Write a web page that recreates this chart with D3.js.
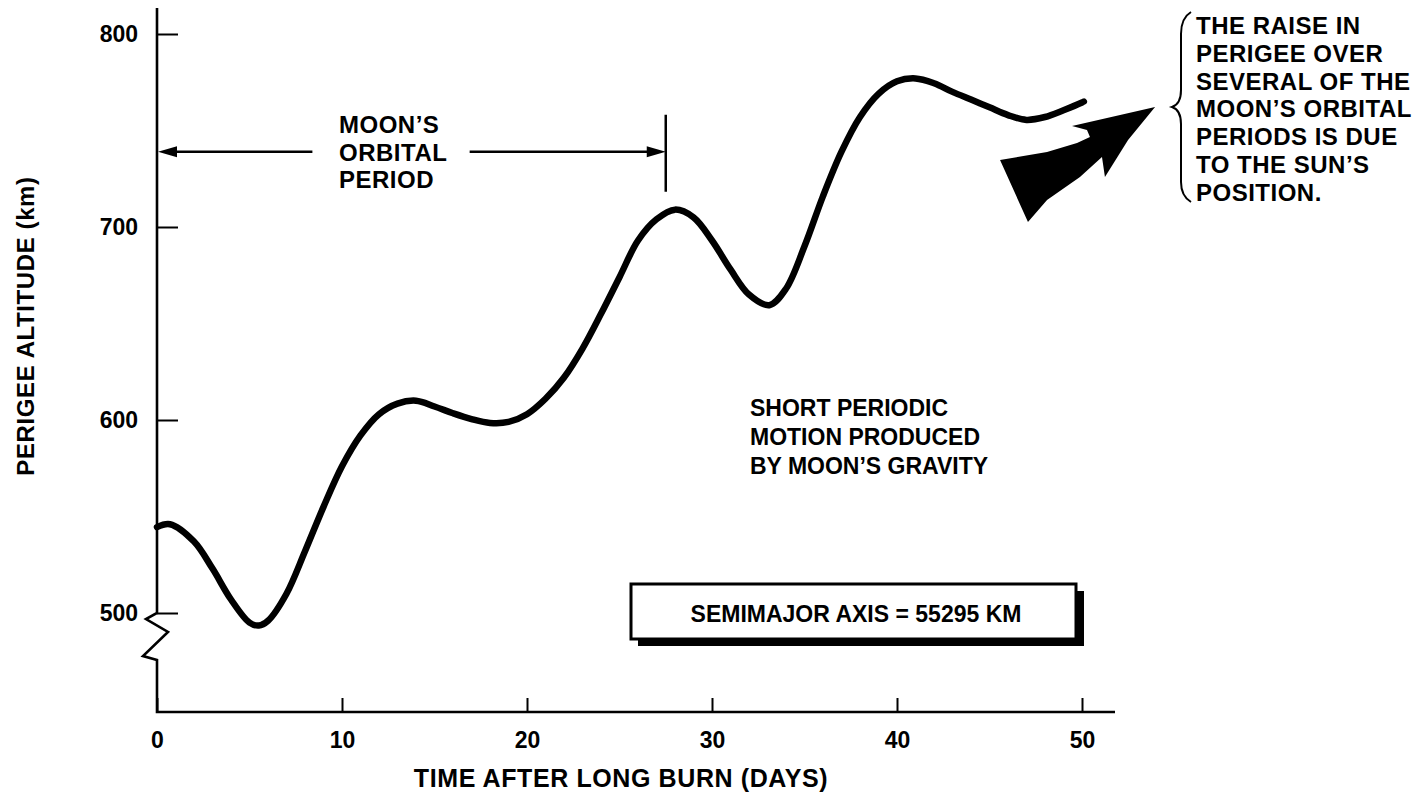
<!DOCTYPE html>
<meta charset="utf-8">
<style>

    body {
        margin: 0;
        background: #fff;
    }

    text {
        fill: #000;
        font-family: "Liberation Sans", Arial, Helvetica, sans-serif;
        font-weight: bold;
    }

    .axis text {
        font-size: 23px;
    }

    .axis .tick line {
        stroke: #000;
        stroke-width: 2;
    }

    path.axisline {
        fill: none;
        stroke: #000;
        stroke-width: 2.6;
        stroke-linejoin: miter;
    }

    path.line {
        fill: none;
        stroke: #000;
        stroke-width: 6.5;
        stroke-linecap: round;
    }

    .note {
        font-size: 23px;
    }

    .note.big {
        font-size: 24px;
        letter-spacing: 0.5px;
    }

    .title {
        font-size: 24px;
        letter-spacing: 0.6px;
    }

    .title.x {
        font-size: 25px;
    }

    path.period {
        fill: none;
        stroke: #000;
        stroke-width: 2.5;
    }

    path.head {
        fill: #000;
    }

    path.brace {
        fill: none;
        stroke: #000;
        stroke-width: 2;
    }

    rect.box {
        fill: #fff;
        stroke: #000;
        stroke-width: 3;
    }

    rect.shadow {
        fill: #000;
    }
</style>
<body>
<script src="https://cdn.jsdelivr.net/npm/d3@7"></script>
<script>

    // perigee altitude (km) against days after the long burn
    var days    = [0, 0.7, 2, 3, 4, 5, 5.5, 6, 7, 8, 9, 10, 11, 12, 13, 14, 15, 16, 17, 18, 19, 20, 21, 22, 23, 24, 25,
                   26, 27, 28, 29, 30, 31, 32, 33.1, 34, 35, 36, 37, 38, 39, 40, 41, 42, 43, 44, 45, 46, 47, 48, 49, 50, 50.1];
    var perigee = [544.5, 546, 537, 523, 507, 495, 493.5, 496, 510, 532, 555, 576, 592, 603, 608.5, 610, 607, 603.5,
                   600.5, 598.5, 599, 603, 611, 622, 637, 655, 674, 693, 704, 709, 705, 693, 678, 665, 659.5, 668,
                   690, 716, 739, 757, 769, 775.5, 777, 774.5, 770, 766, 762, 758, 755.5, 757, 760.5, 764.5, 765];

    var xTicks = [0, 10, 20, 30, 40, 50];
    var yTicks = [500, 600, 700, 800];

    // moon's orbital period bracket (days) and the level it sits at (km)
    var periodSpan = [0, 27.5],
        periodLevel = 739,
        periodGap = [8.4, 16.9];

    // outline of the big "sun" arrow, in days / km
    var sunArrowT = [45.57, 48.11, 49.73, 50.43, 50.27, 49.46, 53.95, 52.49, 51.24, 51.08, 49.89, 48.11, 47.08];
    var sunArrowV = [734.7, 738.9, 743.5, 746.6, 750.3, 752.3, 762.2, 745.1, 725.9, 736.3, 725.9, 714.0, 702.6];

    var raiseNote = ["THE RAISE IN", "PERIGEE OVER", "SEVERAL OF THE", "MOON\u2019S ORBITAL",
                     "PERIODS IS DUE", "TO THE SUN\u2019S", "POSITION."];
    var shortNote = ["SHORT PERIODIC", "MOTION PRODUCED", "BY MOON\u2019S GRAVITY"];
    var periodNote = ["MOON\u2019S", "ORBITAL", "PERIOD"];
    var boxLabel = "SEMIMAJOR AXIS = 55295 KM";

    var width = 1421,
        height = 800,
        axisX = 157,
        axisBottom = 712,
        axisTop = 8,
        axisRight = 1115;

    var x = d3.scaleLinear()
            .domain([0, 50])
            .range([axisX, 1082]);

    var y = d3.scaleLinear()
            .domain([500, 800])
            .range([613, 34]);

    var svg = d3.select("body").append("svg")
            .attr("width", width)
            .attr("height", height);

    // axes: ticks point inward, the domain line is drawn by hand for the break
    var xAxis = d3.axisBottom(x)
            .tickValues(xTicks)
            .tickSizeInner(-14)
            .tickSizeOuter(0)
            .tickPadding(20);

    var yAxis = d3.axisLeft(y)
            .tickValues(yTicks)
            .tickSizeInner(-21)
            .tickSizeOuter(0)
            .tickPadding(19);

    svg.append("g")
            .attr("class", "x axis")
            .attr("transform", "translate(0," + axisBottom + ")")
            .call(xAxis)
            .call(function(g) { g.select(".domain").remove(); });

    svg.append("g")
            .attr("class", "y axis")
            .attr("transform", "translate(" + axisX + ",0)")
            .call(yAxis)
            .call(function(g) { g.select(".domain").remove(); });

    svg.selectAll(".axis text")
            .attr("font-family", null)
            .attr("font-size", null);

    var y0 = y(500);
    svg.append("path")
            .attr("class", "axisline")
            .attr("d", d3.line()([
                [axisX, axisTop], [axisX, y0], [axisX - 11, y0 + 6], [axisX + 11, y0 + 19],
                [axisX - 14, y0 + 43], [axisX, y0 + 47], [axisX, axisBottom], [axisRight, axisBottom]
            ]));

    // the curve
    var line = d3.line()
            .x(function(d, i) { return x(days[i]); })
            .y(function(d) { return y(d); })
            .curve(d3.curveCatmullRom.alpha(0.5));

    svg.append("path")
            .attr("class", "line")
            .attr("d", line(perigee));

    // orbital period bracket
    var py = y(periodLevel);
    svg.append("path")
            .attr("class", "period")
            .attr("d", "M" + (x(periodSpan[0]) + 12) + "," + py + "H" + x(periodGap[0]) +
                       "M" + x(periodGap[1]) + "," + py + "H" + (x(periodSpan[1]) - 12) +
                       "M" + x(periodSpan[1]) + "," + (py - 37) + "V" + (py + 40));

    svg.append("path")
            .attr("class", "head")
            .attr("d", "M" + (x(periodSpan[0]) + 1) + "," + py + "l19,-5.5v11z" +
                       "M" + x(periodSpan[1]) + "," + py + "l-19,-5.5v11z");

    svg.append("g")
            .attr("class", "note big")
        .selectAll("text")
        .data(periodNote)
        .enter().append("text")
            .attr("x", 339)
            .attr("y", function(d, i) { return 133 + i * 27.5; })
            .text(function(d) { return d; });

    // big arrow towards the note on the right
    svg.append("path")
            .attr("class", "head")
            .attr("d", d3.line()
                .x(function(d, i) { return x(d); })
                .y(function(d, i) { return y(sunArrowV[i]); })
                .curve(d3.curveLinearClosed)(sunArrowT));

    // brace and right-hand note
    svg.append("path")
            .attr("class", "brace")
            .attr("d", "M1191,12 Q1181,18 1181,34 V90 Q1181,104 1172,107 Q1181,110 1181,124 V182 Q1181,196 1191,202");

    svg.append("g")
            .attr("class", "note big")
        .selectAll("text")
        .data(raiseNote)
        .enter().append("text")
            .attr("x", 1196)
            .attr("y", function(d, i) { return 34 + i * 27.8; })
            .text(function(d) { return d; });

    svg.append("g")
            .attr("class", "note")
        .selectAll("text")
        .data(shortNote)
        .enter().append("text")
            .attr("x", 750)
            .attr("y", function(d, i) { return 416 + i * 29; })
            .text(function(d) { return d; });

    // semimajor axis box with drop shadow
    svg.append("rect")
            .attr("class", "shadow")
            .attr("x", 638).attr("y", 591)
            .attr("width", 446).attr("height", 55);

    svg.append("rect")
            .attr("class", "box")
            .attr("x", 631).attr("y", 584)
            .attr("width", 445).attr("height", 55);

    svg.append("text")
            .attr("class", "note")
            .attr("x", 856)
            .attr("y", 622)
            .attr("text-anchor", "middle")
            .text(boxLabel);

    // axis titles
    svg.append("text")
            .attr("class", "title")
            .attr("transform", "translate(34,326) rotate(-90)")
            .attr("text-anchor", "middle")
            .text("PERIGEE ALTITUDE (km)");

    svg.append("text")
            .attr("class", "title x")
            .attr("x", 621)
            .attr("y", 787)
            .attr("text-anchor", "middle")
            .text("TIME AFTER LONG BURN (DAYS)");

</script>
